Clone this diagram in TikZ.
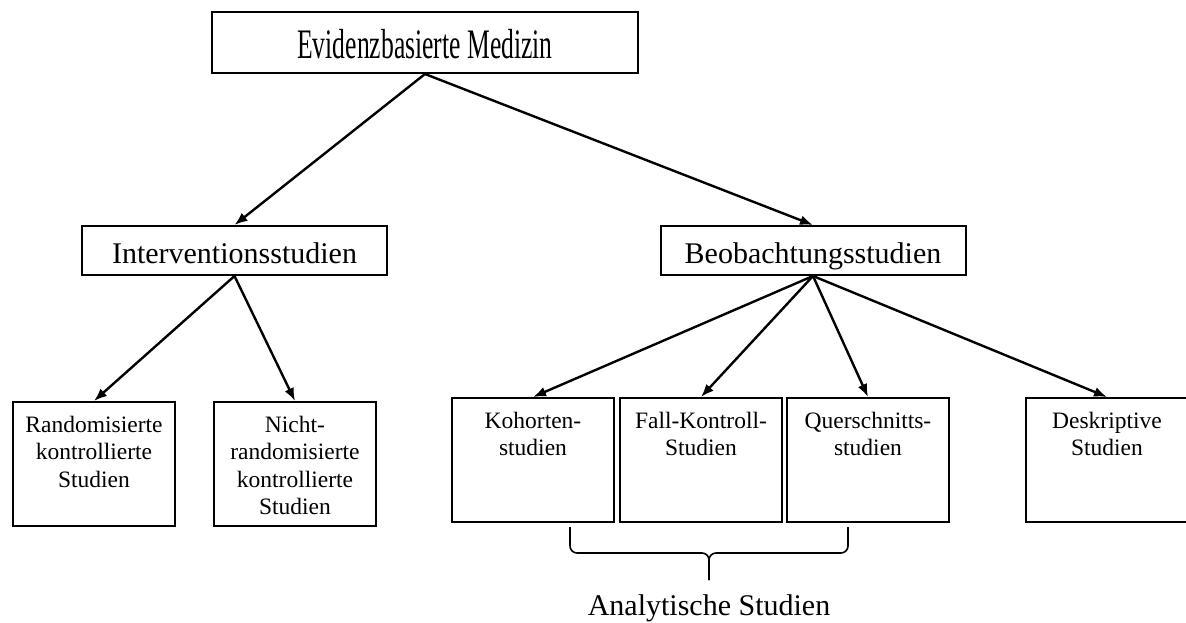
\documentclass[tikz,border=0pt]{standalone}
\usepackage{fontspec}
\setmainfont{Liberation Serif}
\usepackage{tikz}
\usetikzlibrary{arrows.meta}
\tikzstyle{topbox} =[
    draw=black,
    line width=2pt,
    rectangle,
    minimum width=426pt,
    minimum height=61pt,
    text height=34pt,
    text depth=3pt,
    inner sep=0pt
    ]
\tikzstyle{levelbox} = [
    draw=black,
    line width=2pt,
    rectangle,
    minimum width=305pt,
    minimum height=49pt,
    text height=27pt,
    text depth=2pt,
    inner sep=0pt,
    font=\fontsize{30}{34}\selectfont
    ]
\tikzstyle{studybox} = [
    draw=black,
    line width=2pt,
    rectangle,
    anchor=north,
    inner xsep=4pt,
    inner ysep=14pt,
    font=\fontsize{23.5}{27.5}\selectfont
    ]
\tikzstyle{connector} = [
    line width=2.4pt,
    -{Latex[length=13pt,width=10pt]}
    ]
\newcommand{\studytext}[1]{%
    \begin{minipage}[t][96pt][t]{154pt}\centering
    #1
    \end{minipage}}

\begin{document}
\begin{tikzpicture}[x=1pt,y=-1pt]
\useasboundingbox (0,0) rectangle (1186,622);

\node [topbox] (ebm) at (425,42.5)
    {\scalebox{0.61}[1]{\fontsize{42}{48}\selectfont Evidenzbasierte Medizin}};

\node [levelbox] (interv) at (234.5,250.5) {Interventionsstudien};
\node [levelbox] (beob) at (813,250.5) {Beobachtungsstudien};

\node [studybox] (rand) at (94,401) {\studytext{Randomisierte\\kontrollierte\\Studien}};
\node [studybox] (nichtrand) at (295,401) {\studytext{Nicht-\\randomisierte\\kontrollierte\\Studien}};

\node [studybox] (kohorte) at (533,397) {\studytext{Kohorten-\\studien}};
\node [studybox] (fallkontr) at (701,397) {\studytext{Fall-Kontroll-\\Studien}};
\node [studybox] (quer) at (868,397) {\studytext{Querschnitts-\\studien}};
\node [studybox] (deskr) at (1107,397) {\studytext{Deskriptive\\Studien}};

\draw [connector] (ebm.south) -- (interv.north);
\draw [connector] (ebm.south) -- (beob.north);
\draw [connector] (interv.south) -- (rand.north);
\draw [connector] (interv.south) -- (nichtrand.north);
\foreach \study in {kohorte,fallkontr,quer,deskr}
    \draw [connector] (beob.south) -- (\study.north);

% brace under the analytic studies
\coordinate (braceleft) at (570,527);
\coordinate (braceright) at (848,527);
\coordinate (bracetip) at (709,580);
\draw [line width=1.6pt, rounded corners=7pt] (braceleft) |- (709,553) -- (bracetip);
\draw [line width=1.6pt, rounded corners=7pt] (braceright) |- (709,553) -- (bracetip);

\node [anchor=base, font=\fontsize{30}{34}\selectfont] (analyt) at (709,615) {Analytische Studien};
\end{tikzpicture}
\end{document}
